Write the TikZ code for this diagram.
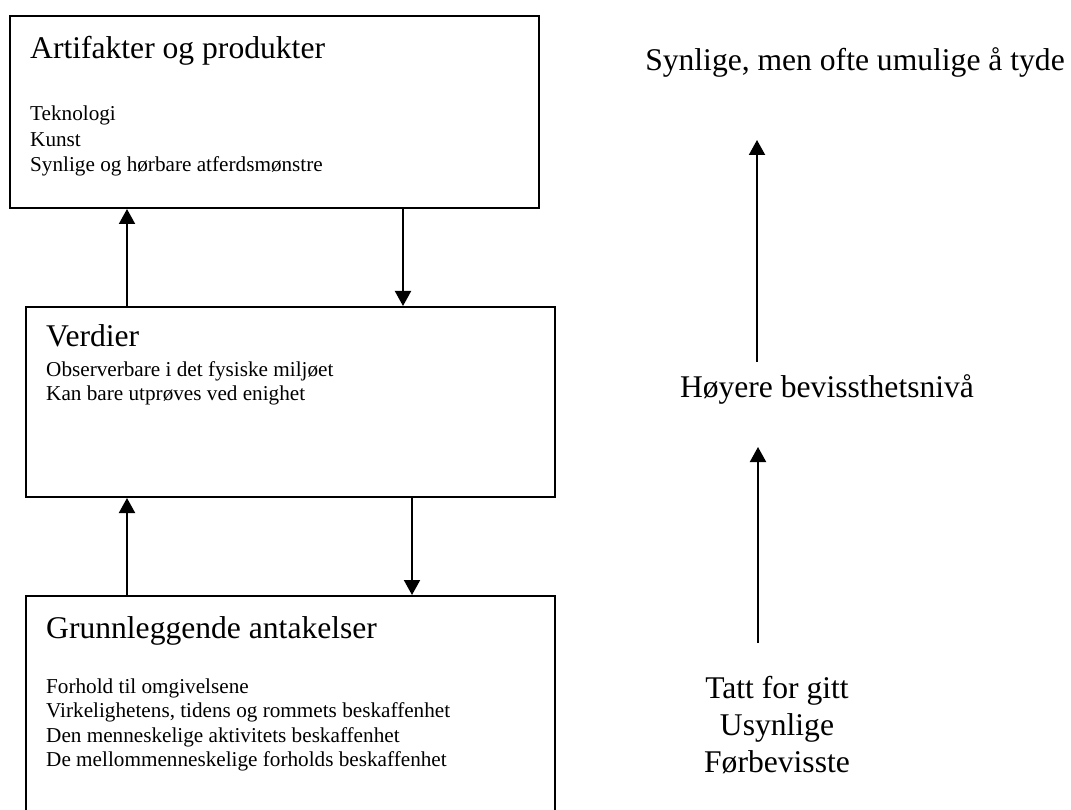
\documentclass[tikz,border=0pt]{standalone}
\usepackage{fontspec}
\setmainfont{Liberation Serif}
\usetikzlibrary{arrows.meta}
\begin{document}
\begin{tikzpicture}[x=1pt,y=-1pt,
  box/.style={draw, line width=2pt, rectangle, anchor=north west,
    minimum width=529pt, inner sep=0pt},
  head/.style={anchor=base west, inner sep=0pt, font=\fontsize{31.6}{37}\selectfont},
  body/.style={anchor=base west, inner sep=0pt, font=\fontsize{21.2}{25}\selectfont},
  side/.style={anchor=base, inner sep=0pt, font=\fontsize{31.6}{37}\selectfont},
  conn/.style={line width=2pt, -{Triangle[width=16pt,length=15pt]}}]

\useasboundingbox (0,0) rectangle (1071,810);
\clip (0,0) rectangle (1071,810);

% the three levels
\node[box, minimum height=192pt] (art)   at (9,15)   {};
\node[box, minimum height=190pt] (verd)  at (25,306) {};
\node[box, minimum height=240pt] (grunn) at (25,595) {};

% level texts
\node[head] (artT) at (30,59)  {Artifakter og produkter};
\node[body] (art1) at (30,121) {Teknologi};
\node[body] (art2) at (30,147) {Kunst};
\node[body] (art3) at (30,172) {Synlige og hørbare atferdsmønstre};

\node[head] (verdT) at (46,347) {Verdier};
\node[body] (verd1) at (46,376) {Observerbare i det fysiske miljøet};
\node[body] (verd2) at (46,400) {Kan bare utprøves ved enighet};

\node[head] (grunnT) at (46,638) {Grunnleggende antakelser};
\node[body] (grunn1) at (46,693) {Forhold til omgivelsene};
\node[body] (grunn2) at (46,717) {Virkelighetens, tidens og rommets beskaffenhet};
\node[body] (grunn3) at (46,742) {Den menneskelige aktivitets beskaffenhet};
\node[body] (grunn4) at (46,766) {De mellommenneskelige forholds beskaffenhet};

% connectors between the levels
\coordinate (up)    at (127,0);
\coordinate (down1) at (403,0);
\coordinate (down2) at (412,0);
\draw[conn] (up |- verd.north)  -- (up |- art.south);
\draw[conn] (down1 |- art.south) -- (down1 |- verd.north);
\draw[conn] (up |- grunn.north) -- (up |- verd.south);
\draw[conn] (down2 |- verd.south) -- (down2 |- grunn.north);

% visibility scale
\node[side] (syn)  at (855,71)  {Synlige, men ofte umulige å tyde};
\node[side] (hoy)  at (827,397) {Høyere bevissthetsnivå};
\node[side] (tatt) at (777,698) {Tatt for gitt};
\node[side] (usyn) at (777,735) {Usynlige};
\node[side] (forb) at (777,772) {Førbevisste};

\coordinate (s1a) at (757,362);
\coordinate (s1b) at (757,140);
\coordinate (s2a) at (758,643);
\coordinate (s2b) at (758,447);
\draw[conn] (s1a) -- (s1b);
\draw[conn] (s2a) -- (s2b);
\end{tikzpicture}
\end{document}
